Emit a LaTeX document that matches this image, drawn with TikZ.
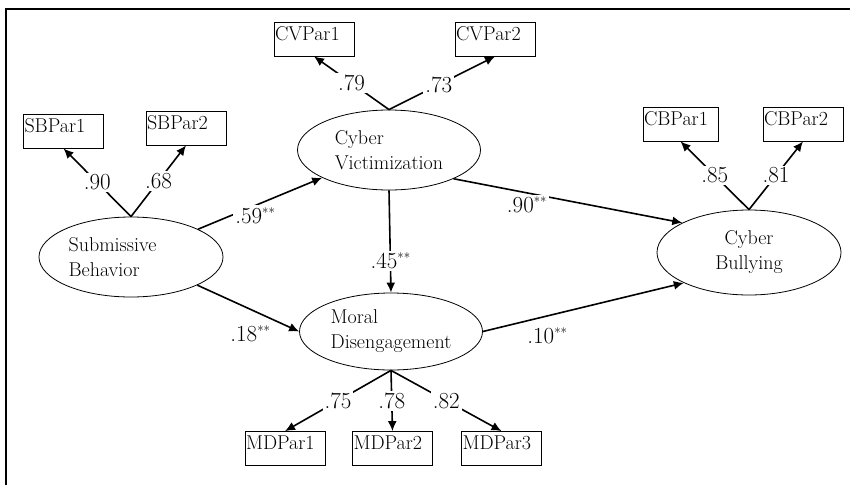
\documentclass[tikz,border=0pt]{standalone}
\usepackage{fontspec}
\usepackage{tikz}
\usetikzlibrary{shapes.geometric}
\usetikzlibrary{arrows.meta}

\newcommand{\sigstar}{\raisebox{6pt}{\fontsize{13}{13}\selectfont **}}

\begin{document}
\begin{tikzpicture}[x=1pt,y=-1pt,
    latent/.style={draw,ellipse,line width=0.8pt,minimum width=183pt,minimum height=80pt,inner sep=0pt,font=\fontsize{20}{25}\selectfont},
    manifest/.style={draw,rectangle,line width=0.8pt,minimum width=80pt,minimum height=34pt,inner xsep=1pt,inner ysep=1pt,text width=78pt,text height=17pt,text depth=15pt,align=left,font=\fontsize{20}{20}\selectfont},
    effect/.style={line width=1.6pt,-{Latex[length=10pt,width=9pt]}},
    coef/.style={fill=white,inner sep=2pt,font=\fontsize{23}{24}\selectfont}
]
\useasboundingbox (0,0) rectangle (850,485);
\draw[line width=1.6pt] (850,9) -- (6,9) -- (6,485);

\node[latent,minimum width=184pt,align=left] (sb) at (131,257) {Submissive\hspace*{37pt}\\Behavior};
\node[latent,align=left] (cv) at (389,150) {Cyber\\Victimization};
\node[latent,minimum height=77pt,align=left] (md) at (391,331.5) {Moral\\Disengagement};
\node[latent,minimum width=184pt,minimum height=85pt,align=center] (cb) at (749,252.5) {Cyber\\Bullying};

\node[manifest] (sbpar1) at (63.5,131) {SBPar1};
\node[manifest] (sbpar2) at (186,128) {SBPar2};
\node[manifest] (cvpar1) at (314,39) {CVPar1};
\node[manifest] (cvpar2) at (495,39) {CVPar2};
\node[manifest,minimum width=75pt,text width=73pt] (cbpar1) at (680.5,124) {CBPar1};
\node[manifest] (cbpar2) at (803,124) {CBPar2};
\node[manifest] (mdpar1) at (285,448.5) {MDPar1};
\node[manifest] (mdpar2) at (392.5,448.5) {MDPar2};
\node[manifest] (mdpar3) at (501.5,448.5) {MDPar3};

\draw[effect] (sb.north) -- node[coef] {.90} (sbpar1.south);
\draw[effect] (sb.north) -- node[coef] {.68} (sbpar2.south);
\draw[effect] (cv.north) -- node[coef] {.79} (cvpar1.south);
\draw[effect] (cv.north) -- node[coef,pos=.47] {.73} (cvpar2.south);
\draw[effect] (cb.north) -- node[coef] {.85} (cbpar1.south);
\draw[effect] (cb.north) -- node[coef] {.81} (cbpar2.south);
\draw[effect] (md.south) -- node[coef] {.75} (mdpar1.north);
\draw[effect] (md.south) -- node[coef] {.78} (mdpar2.north);
\draw[effect] (md.south) -- node[coef] {.82} (mdpar3.north);

\draw[effect] (sb) -- node[coef,pos=.46,yshift=-10pt] {.59\sigstar} (cv);
\draw[effect] (cv.-24) -- node[coef,pos=.32,yshift=-12pt] {.90\sigstar} (cb.156);
\draw[effect] (cv.south) -- node[coef,pos=.69] {.45\sigstar} (md.north);
\draw[effect] (sb.-23) -- node[coef,pos=.52,yshift=-25pt] {.18\sigstar} (md.west);
\draw[effect] (md.east) -- node[coef,pos=.32,yshift=-20pt] {.10\sigstar} (cb.205);
\end{tikzpicture}
\end{document}
